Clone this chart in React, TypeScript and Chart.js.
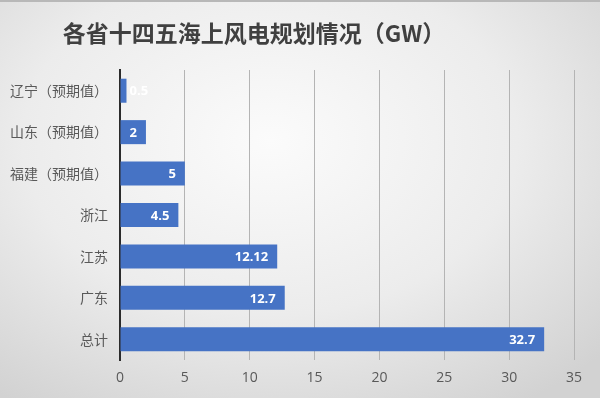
import React, { useEffect, useRef } from "react";
import { Chart, registerables } from "chart.js";

Chart.register(...registerables);

const TITLE = "各省十四五海上风电规划情况（GW）";
const categories = ["辽宁（预期值）", "山东（预期值）", "福建（预期值）", "浙江", "江苏", "广东", "总计"];
const values = [0.5, 2, 5, 4.5, 12.12, 12.7, 32.7];
const xTicks = [0, 5, 10, 15, 20, 25, 30, 35];

const BAR_COLOR = "#4673c5";

const titlePlugin = {
  id: "customTitle",
  afterDraw(chart: any) {
    const ctx = chart.ctx;
    ctx.save();
    ctx.font = "bold 23px 'Noto Sans CJK SC', sans-serif";
    ctx.fillStyle = "#404040";
    ctx.textAlign = "center";
    ctx.textBaseline = "middle";
    ctx.fillText(TITLE, 254, 31);
    ctx.restore();
  },
};

const labelPlugin = {
  id: "barLabels",
  afterDatasetsDraw(chart: any) {
    const ctx = chart.ctx;
    const meta = chart.getDatasetMeta(0);
    ctx.save();
    ctx.font = "bold 13px 'Open Sans', sans-serif";
    ctx.fillStyle = "#ffffff";
    ctx.textBaseline = "middle";
    meta.data.forEach((bar: any, i: number) => {
      const v = values[i];
      const text = String(v);
      const w = ctx.measureText(text).width;
      const barLen = bar.x - bar.base;
      if (barLen < w + 14) {
        ctx.textAlign = "left";
        ctx.fillText(text, bar.x + 3, bar.y + 1);
      } else {
        ctx.textAlign = "right";
        ctx.fillText(text, bar.x - 9, bar.y + 1);
      }
    });
    ctx.restore();
  },
};

export default function App() {
  const ref = useRef<HTMLCanvasElement | null>(null);

  useEffect(() => {
    document.body.style.margin = "0";
    const canvas = ref.current;
    if (!canvas) return;
    const chart = new Chart(canvas, {
      type: "bar",
      data: {
        labels: categories,
        datasets: [
          {
            data: values,
            backgroundColor: BAR_COLOR,
            categoryPercentage: 1,
            barPercentage: 0.58,
          },
        ],
      },
      options: {
        indexAxis: "y",
        animation: false,
        responsive: false,
        maintainAspectRatio: false,
        layout: { padding: { top: 68, right: 26, left: 0, bottom: 0 } },
        plugins: {
          legend: { display: false },
          tooltip: { enabled: false },
          title: { display: false },
        },
        scales: {
          x: {
            min: 0,
            max: 35,
            afterBuildTicks(scale: any) {
              scale.ticks = xTicks.map((v) => ({ value: v }));
            },
            afterFit(scale: any) {
              scale.height = 38;
            },
            grid: {
              color: "#b4b4b4",
              lineWidth: 1,
              drawTicks: false,
            },
            border: { display: false },
            ticks: {
              color: "#595959",
              font: { size: 14, family: "'Open Sans', sans-serif" },
              padding: 10,
            },
          },
          y: {
            afterFit(scale: any) {
              scale.width = 120;
            },
            grid: { display: false, drawTicks: false },
            border: { display: true, color: "#2b2b2b", width: 2 },
            ticks: {
              color: "#595959",
              font: { size: 14, family: "'Noto Sans CJK SC', sans-serif" },
              padding: 12,
            },
          },
        },
      },
      plugins: [titlePlugin, labelPlugin],
    });
    return () => chart.destroy();
  }, []);

  return (
    <div
      style={{
        position: "absolute",
        left: 0,
        top: 0,
        width: 600,
        height: 398,
        background:
          "radial-gradient(ellipse 75% 80% at 45% 35%, #fbfbfb 0%, #ececec 55%, #d2d2d2 100%)",
        borderTop: "2px solid #b8b8b8",
        boxSizing: "border-box",
      }}
    >
      <canvas ref={ref} width={600} height={396} style={{ display: "block" }} />
    </div>
  );
}
